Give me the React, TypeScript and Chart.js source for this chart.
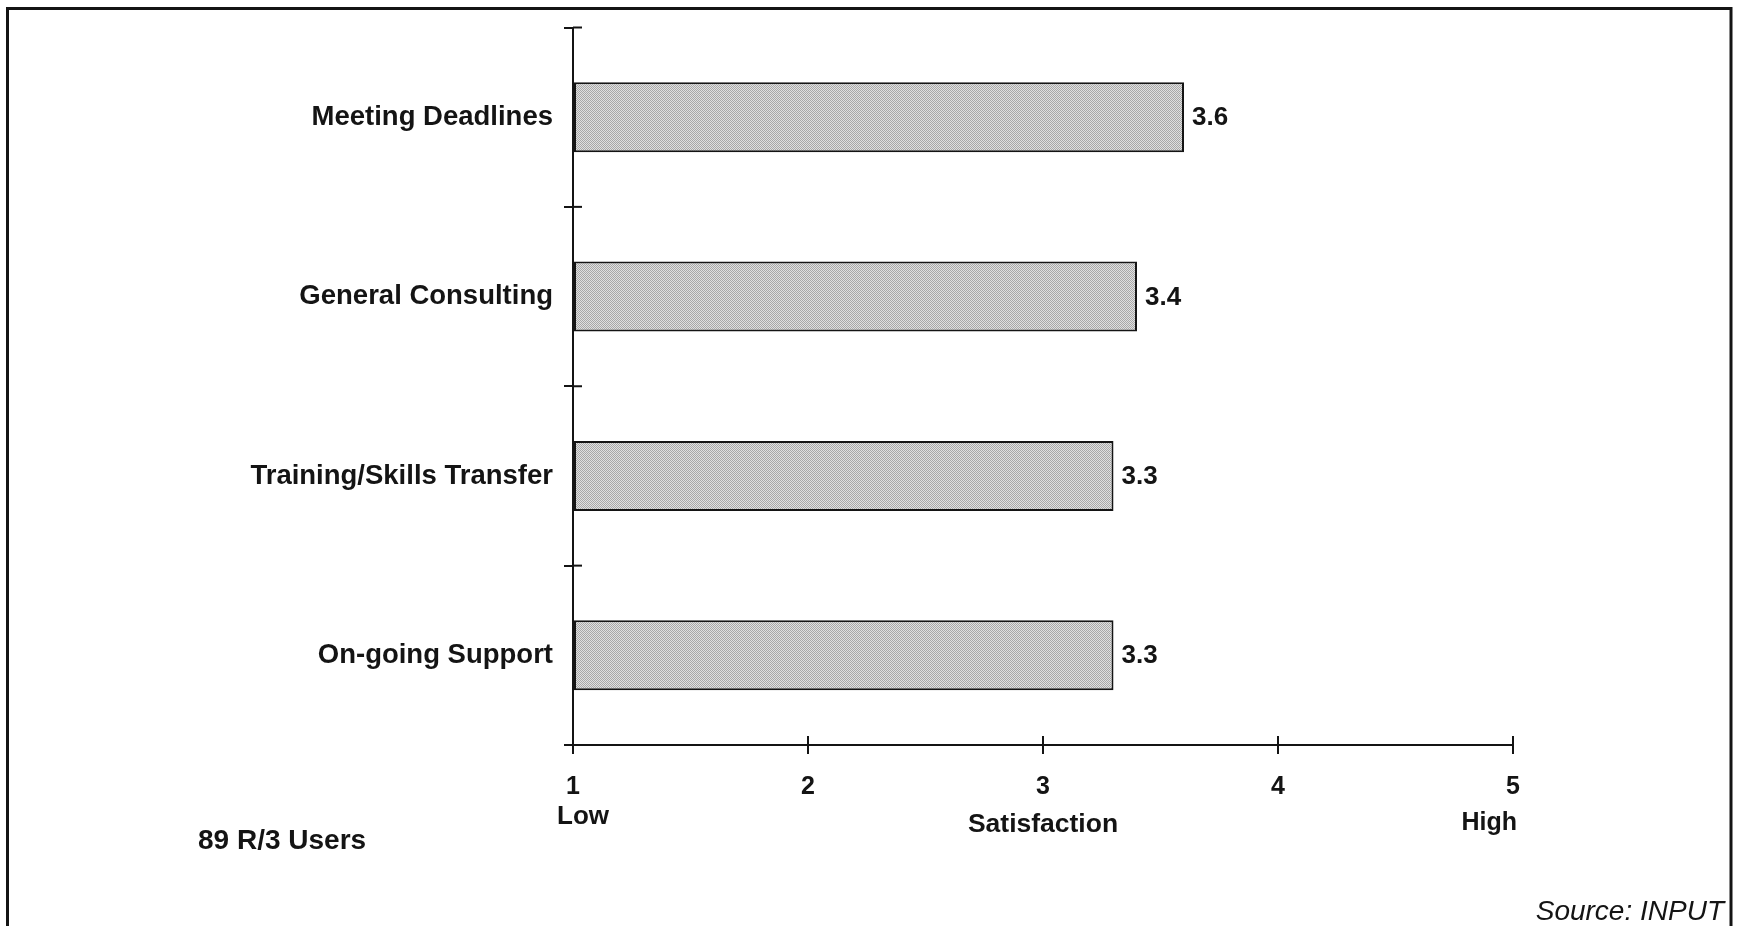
import React, { useEffect, useRef } from 'react';
import { Chart, registerables } from 'chart.js';

Chart.register(...registerables);

// ---- data ----
const categories = ['Meeting Deadlines', 'General Consulting', 'Training/Skills Transfer', 'On-going Support'];
const satisfaction = [3.6, 3.4, 3.3, 3.3];
const scaleTicks = [1, 2, 3, 4, 5];
const lowLabel = 'Low';
const highLabel = 'High';
const axisTitle = 'Satisfaction';
const noteText = '89 R/3 Users';
const sourceText = 'Source: INPUT';

const FONT = "'Liberation Sans', Arial, Helvetica, sans-serif";
const INK = '#141414';

function makePattern(): CanvasPattern | string {
  const c = document.createElement('canvas');
  c.width = 4;
  c.height = 4;
  const g = c.getContext('2d');
  if (!g) return '#c4c4c4';
  for (let i = 0; i < 4; i++) {
    for (let j = 0; j < 4; j++) {
      g.fillStyle = (i + j) % 2 === 0 ? '#a8a8a8' : '#e0e0e0';
      g.fillRect(i, j, 1, 1);
    }
  }
  const p = g.createPattern(c, 'repeat');
  return p || '#c4c4c4';
}

const decorPlugin = {
  id: 'decor',
  beforeDraw(chart: any) {
    const ctx = chart.ctx;
    ctx.save();
    ctx.fillStyle = '#ffffff';
    ctx.fillRect(0, 0, chart.width, chart.height);
    ctx.strokeStyle = INK;
    ctx.lineWidth = 3;
    ctx.strokeRect(7.5, 8.5, 1723.5, 960);
    ctx.restore();
  },
  afterDraw(chart: any) {
    const ctx = chart.ctx;
    const x = chart.scales.x;
    const y = chart.scales.y;
    ctx.save();
    ctx.strokeStyle = INK;
    ctx.lineWidth = 2;
    // inner halves of y-axis tick marks
    const half = (y.getPixelForValue(1) - y.getPixelForValue(0)) / 2;
    const y0 = y.getPixelForValue(0) - half;
    for (let i = 0; i <= categories.length; i++) {
      const py = y0 + i * 2 * half;
      ctx.beginPath();
      ctx.moveTo(x.left, py);
      ctx.lineTo(x.left + 9, py);
      ctx.stroke();
    }
    // inner halves of x-axis tick marks
    scaleTicks.forEach((v) => {
      const px = x.getPixelForValue(v);
      ctx.beginPath();
      ctx.moveTo(px, y.bottom);
      ctx.lineTo(px, y.bottom - 9);
      ctx.stroke();
    });
    // small extension of x axis to the left of the y axis
    ctx.beginPath();
    ctx.moveTo(x.left - 6, y.bottom);
    ctx.lineTo(x.left, y.bottom);
    ctx.stroke();

    // value labels
    ctx.fillStyle = INK;
    ctx.font = `bold 26px ${FONT}`;
    ctx.textAlign = 'left';
    ctx.textBaseline = 'middle';
    const meta = chart.getDatasetMeta(0);
    meta.data.forEach((bar: any, i: number) => {
      ctx.fillText(satisfaction[i].toFixed(1), bar.x + 8, bar.y + 1);
    });

    // Low / High under the scale ends
    ctx.font = `bold 26px ${FONT}`;
    ctx.textAlign = 'left';
    ctx.fillText(lowLabel, x.getPixelForValue(scaleTicks[0]) - 16, 817);
    ctx.textAlign = 'right';
    ctx.font = `bold 25px ${FONT}`;
    ctx.fillText(highLabel, x.getPixelForValue(scaleTicks[scaleTicks.length - 1]) + 4, 823);

    // note
    ctx.textAlign = 'left';
    ctx.font = `bold 28px ${FONT}`;
    ctx.fillText(noteText, 198, 841);

    // source
    ctx.textAlign = 'right';
    ctx.textBaseline = 'alphabetic';
    ctx.font = `italic 28px ${FONT}`;
    ctx.fillText(sourceText, 1724, 920);
    ctx.restore();
  },
};

export default function App() {
  const ref = useRef<HTMLCanvasElement | null>(null);

  useEffect(() => {
    if (!ref.current) return;
    const pattern = makePattern();
    const chart = new Chart(ref.current, {
      type: 'bar',
      data: {
        labels: categories,
        datasets: [
          {
            label: axisTitle,
            data: satisfaction,
            base: 1,
            backgroundColor: pattern as any,
            borderColor: INK,
            borderWidth: 2,
            borderSkipped: false,
            categoryPercentage: 1,
            barPercentage: 0.39,
          } as any,
        ],
      },
      options: {
        indexAxis: 'y',
        animation: false,
        responsive: false,
        devicePixelRatio: 1,
        layout: { padding: { left: 0, top: 27, right: 228, bottom: 85 } },
        plugins: {
          legend: { display: false },
          tooltip: { enabled: false },
          title: { display: false },
        },
        scales: {
          x: {
            type: 'linear',
            min: 1,
            max: 5,
            afterFit: (s: any) => {
              s.height = 96;
            },
            afterBuildTicks: (s: any) => {
              s.ticks = scaleTicks.map((v) => ({ value: v }));
            },
            ticks: {
              color: INK,
              font: { family: FONT, size: 25, weight: 'bold' },
              padding: 18,
              maxRotation: 0,
              callback: (v: any) => String(v),
            },
            grid: {
              display: true,
              drawOnChartArea: false,
              drawTicks: true,
              tickLength: 9,
              color: INK,
              lineWidth: 2,
            },
            border: { display: true, color: INK, width: 2 },
            title: {
              display: true,
              text: axisTitle,
              color: INK,
              font: { family: FONT, size: 26.5, weight: 'bold' },
              padding: { top: 0, bottom: 0 },
            },
          },
          y: {
            type: 'category',
            offset: true,
            afterFit: (s: any) => {
              s.width = 573;
            },
            ticks: {
              color: INK,
              font: { family: FONT, size: 27.5, weight: 'bold' },
              padding: 11,
            },
            grid: {
              display: true,
              offset: true,
              drawOnChartArea: false,
              drawTicks: true,
              tickLength: 9,
              color: INK,
              lineWidth: 2,
            },
            border: { display: true, color: INK, width: 2 },
          },
        },
      },
      plugins: [decorPlugin],
    });
    return () => chart.destroy();
  }, []);

  return (
    <div style={{ position: 'absolute', left: 0, top: 0, width: 1741, height: 926, background: '#fff' }}>
      <canvas ref={ref} width={1741} height={926} style={{ display: 'block', width: 1741, height: 926 }} />
    </div>
  );
}
